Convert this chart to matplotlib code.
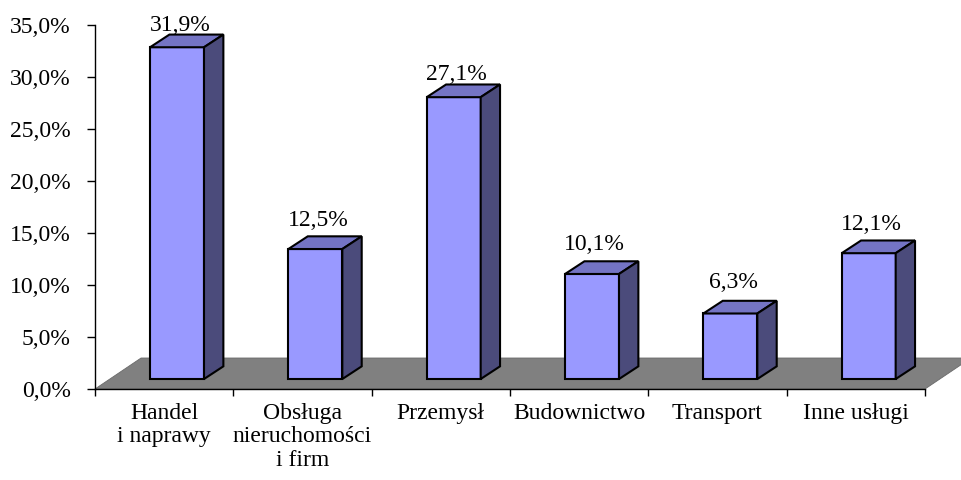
import matplotlib.pyplot as plt
from matplotlib.patches import Polygon
from matplotlib.ticker import FuncFormatter

plt.rcParams['font.family'] = ['Liberation Serif', 'DejaVu Serif']

kategorie = ['Handel\ni naprawy', 'Obsługa\nnieruchomości\ni firm', 'Przemysł',
             'Budownictwo', 'Transport', 'Inne usługi']
udzial = [31.9, 12.5, 27.1, 10.1, 6.3, 12.1]

# wygląd "3D" jak w Excelu
c_front = '#9999FF'
c_top = '#7474C4'
c_side = '#4B4B7B'
c_floor = '#808080'
szer = 0.39
floor_dx, floor_dy = 0.333, 2.98
bar_off_x, bar_off_y = 0.093, 0.96
bar_dx, bar_dy = 0.14, 1.22

fig = plt.figure(figsize=(9.61, 4.8), dpi=100)
ax = fig.add_axes([95 / 961, 1 - 389 / 480, 830 / 961, 364 / 480])
n = len(kategorie)
ax.set_xlim(0, n)
ax.set_ylim(0, 35)

# podłoga
ax.add_patch(Polygon([(0, 0), (n, 0), (n + floor_dx, floor_dy), (floor_dx, floor_dy)],
                     closed=True, facecolor=c_floor, edgecolor='#6a6a6a', lw=0.6,
                     clip_on=False, zorder=1))

for i, v in enumerate(udzial):
    x0 = i + 0.5 - szer / 2 + bar_off_x
    x1 = x0 + szer
    y0 = bar_off_y
    y1 = bar_off_y + v
    kw = dict(closed=True, edgecolor='black', lw=1.5, clip_on=False, zorder=3,
              joinstyle='miter')
    ax.add_patch(Polygon([(x0, y0), (x1, y0), (x1, y1), (x0, y1)], facecolor=c_front, **kw))
    ax.add_patch(Polygon([(x0, y1), (x1, y1), (x1 + bar_dx, y1 + bar_dy),
                          (x0 + bar_dx, y1 + bar_dy)], facecolor=c_top, **kw))
    ax.add_patch(Polygon([(x1, y0), (x1 + bar_dx, y0 + bar_dy), (x1 + bar_dx, y1 + bar_dy),
                          (x1, y1)], facecolor=c_side, **kw))
    ax.text((x0 + x1) / 2 + 0.02, y1 + 2.7 - 0.037 * v,
            f'{v:.1f}'.replace('.', ',') + '%', ha='center', va='baseline',
            fontsize=17, zorder=4, clip_on=False)

for s in ['top', 'right']:
    ax.spines[s].set_visible(False)
ax.spines['left'].set_linewidth(1.0)
ax.spines['bottom'].set_linewidth(1.0)
ax.spines['bottom'].set_zorder(2)

ax.set_yticks(range(0, 36, 5))
ax.yaxis.set_major_formatter(FuncFormatter(lambda y, p: f'{y:.1f}'.replace('.', ',') + '%'))
ax.tick_params(axis='y', direction='out', length=5.5, width=1.0, labelsize=17, pad=12)

ax.set_xticks(range(n + 1))
ax.set_xticklabels([''] * (n + 1))
ax.tick_params(axis='x', which='major', direction='out', length=5, width=1.0)
ax.set_xticks([i + 0.5 for i in range(n)], minor=True)
ax.set_xticklabels(kategorie, minor=True, fontsize=17, linespacing=1.15)
ax.tick_params(axis='x', which='minor', length=0, pad=10)

fig.savefig('out.png', dpi=100)
